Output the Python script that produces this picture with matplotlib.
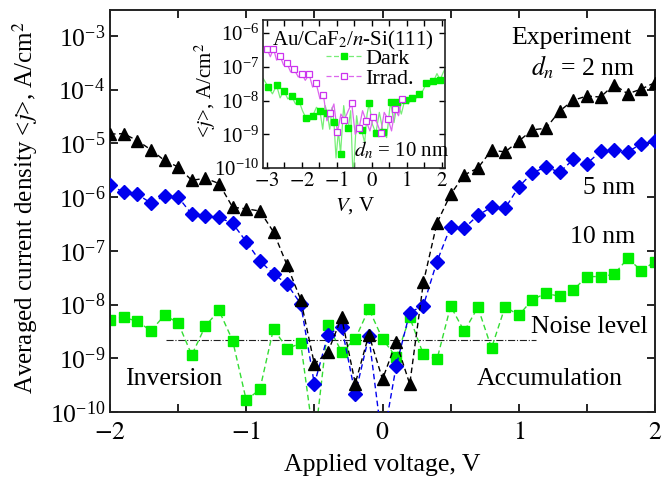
import numpy as np
import matplotlib
matplotlib.use("Agg")
import matplotlib.pyplot as plt
from matplotlib.lines import Line2D
from matplotlib.ticker import MultipleLocator, LogLocator, NullLocator

plt.rcParams['font.family'] = ['Liberation Serif', 'DejaVu Serif']
plt.rcParams['mathtext.fontset'] = 'stix'

# ---------------- main data (log10 of averaged current density, A/cm^2) ----------------
voltage = np.round(np.arange(-2.0, 2.0001, 0.1), 2)
log_j_2nm = [-4.83, -4.82, -4.95, -5.12, -5.32, -5.44, -5.69, -5.65, -5.75, -6.19,
             -6.22, -6.26, -6.65, -7.27, -7.91, -9.11, -8.88, -8.24, -9.47, -8.56,
             -9.39, -8.70, -9.48, -7.59, -6.48, -5.95, -5.59, -5.46, -5.13, -5.16,
             -4.96, -4.75, -4.72, -4.40, -4.20, -4.12, -4.14, -3.91, -4.08, -3.99, -3.87]
log_j_5nm = [-5.78, -5.91, -5.95, -6.11, -5.98, -6.00, -6.32, -6.36, -6.38, -6.49,
             -6.83, -7.19, -7.43, -7.62, -7.99, -9.48, -8.56, -8.41, -9.67, -8.59,
             -10.6, -9.15, -8.15, -8.02, -7.20, -6.55, -6.58, -6.34, -6.19, -6.21,
             -5.81, -5.55, -5.44, -5.54, -5.30, -5.38, -5.15, -5.13, -5.16, -5.01, -4.95]
log_j_10nm = [-8.28, -8.24, -8.31, -8.49, -8.20, -8.34, -8.94, -8.40, -8.11, -8.67,
              -9.78, -9.58, -8.45, -8.82, -8.72, -10.6, -8.39, -8.88, -8.64, -8.08,
              -8.64, -8.98, -8.24, -8.93, -9.02, -8.03, -8.50, -8.05, -8.81, -8.04,
              -8.20, -7.91, -7.79, -7.85, -7.73, -7.48, -7.48, -7.44, -7.14, -7.37, -7.20]
noise_level = 2.2e-9
noise_v_range = [-1.59, 1.13]

# ---------------- inset data ----------------
dark_marker_v = [-2.96, -2.72, -2.51, -2.29, -2.08, -1.88, -1.69, -1.48, -1.27, -1.08,
                 -0.89, -0.67, -0.48, -0.29, -0.07, 0.12, 0.33, 0.54, 0.74, 0.95,
                 1.16, 1.36, 1.57, 1.77, 1.96]
dark_marker_logj = [-7.60, -7.55, -7.71, -7.87, -8.01, -8.52, -8.46, -8.31, -8.38, -8.63,
                    -9.57, -8.81, -10.4, -8.86, -8.08, -8.97, -8.94, -8.03, -8.03, -7.98,
                    -7.93, -7.80, -7.48, -7.43, -7.38]
dark_line_v = [-3.1, -2.96, -2.84, -2.72, -2.62, -2.51, -2.40, -2.29, -2.18, -2.08,
               -1.98, -1.88, -1.78, -1.69, -1.58, -1.48, -1.40, -1.33, -1.27, -1.20,
               -1.13, -1.08, -1.02, -0.95, -0.89, -0.80, -0.73, -0.67, -0.60, -0.53,
               -0.43, -0.36, -0.29, -0.20, -0.13, -0.07, 0.02, 0.12, 0.22, 0.33,
               0.43, 0.54, 0.64, 0.74, 0.85, 0.95, 1.05, 1.16, 1.26, 1.36,
               1.47, 1.57, 1.67, 1.77, 1.87, 1.96, 2.1]
dark_line_logj = [-7.35, -7.60, -7.80, -7.55, -7.92, -7.71, -7.95, -7.87, -8.10, -8.01,
                  -8.30, -8.52, -8.60, -8.46, -8.20, -8.31, -8.85, -8.15, -8.38, -8.85,
                  -8.20, -8.63, -9.70, -8.90, -9.57, -8.15, -8.70, -8.81, -8.30, -10.4,
                  -8.45, -8.95, -8.86, -9.25, -8.40, -8.08, -8.70, -8.97, -8.35, -8.94,
                  -9.10, -8.03, -8.65, -8.03, -8.40, -7.98, -8.10, -7.93, -7.95, -7.80,
                  -7.70, -7.48, -7.55, -7.43, -7.20, -7.38, -7.05]
irr_marker_v = [-3.0, -2.81, -2.62, -2.43, -2.22, -2.0, -1.79, -1.59, -1.38, -1.18,
                -0.98, -0.78, -0.57, -0.36, -0.16, 0.05, 0.26, 0.47, 0.67, 0.87]
irr_marker_logj = [-6.46, -6.46, -6.68, -6.88, -7.07, -7.20, -7.22, -7.48, -7.83, -8.37,
                   -8.94, -8.57, -8.08, -8.82, -8.60, -8.50, -8.97, -8.55, -8.25, -7.95]
irr_line_v = [-3.1, -3.0, -2.9, -2.81, -2.72, -2.62, -2.52, -2.43, -2.32, -2.22,
              -2.1, -2.0, -1.9, -1.79, -1.69, -1.59, -1.48, -1.38, -1.28, -1.18,
              -1.08, -0.98, -0.88, -0.78, -0.67, -0.57, -0.47, -0.36, -0.26, -0.16,
              -0.05, 0.05, 0.15, 0.26, 0.36, 0.47, 0.57, 0.67, 0.77, 0.87]
irr_line_logj = [-6.40, -6.46, -6.70, -6.46, -6.80, -6.68, -6.95, -6.88, -7.15, -7.07,
                 -7.30, -7.20, -7.40, -7.22, -7.60, -7.48, -7.95, -7.83, -8.60, -8.37,
                 -8.10, -8.94, -8.40, -8.57, -8.30, -8.08, -9.00, -8.82, -8.30, -8.60,
                 -8.90, -8.50, -8.65, -8.97, -8.35, -8.55, -8.90, -8.25, -8.45, -7.95]

W, H = 667, 479
fig = plt.figure(figsize=(W / 100, H / 100), dpi=100)

def fx(px):
    return px / W

def fy(py):
    return 1 - py / H

ax = fig.add_axes([fx(110), fy(412), fx(655) - fx(110), fy(10) - fy(412)])

FS = 18.5
black = '#000000'
blue = '#0000ee'
green = '#00ee00'
green_line = '#33dd33'

ax.plot(voltage, 10 ** np.array(log_j_2nm), color=black, lw=1.0, dashes=(4, 2.5),
        marker='^', ms=8, mfc=black, mec=black, zorder=4)
ax.plot(voltage, 10 ** np.array(log_j_5nm), color=blue, lw=1.0, dashes=(4, 2.5),
        marker='D', ms=7, mfc=blue, mec=blue, zorder=3)
ax.plot(voltage, 10 ** np.array(log_j_10nm), color=green_line, lw=1.0, dashes=(4, 2.5),
        marker='s', ms=6.5, mfc=green, mec=green, zorder=2)
ax.plot(noise_v_range, [noise_level, noise_level], color='#222222', lw=0.8, ls='-.', zorder=1)

ax.set_yscale('log')
ax.set_xlim(-2, 2)
ax.set_ylim(1e-10, 10 ** -2.52)
ax.xaxis.set_minor_locator(MultipleLocator(0.5))
ax.yaxis.set_major_locator(LogLocator(base=10, numticks=20))
ax.yaxis.set_minor_locator(NullLocator())
ax.set_xticks([-2, -1, 0, 1, 2])
ax.set_xticklabels(['$-2$', '$-1$', '$0$', '$1$', '$2$'])
ax.tick_params(which='both', direction='in', top=True, right=True, labelsize=FS,
               length=6, width=1.2)
ax.tick_params(axis='x', pad=7)
for s in ax.spines.values():
    s.set_linewidth(1.4)
    s.set_color('#222222')

fig.text(fx(382), fy(465), 'Applied voltage, V', fontsize=FS, ha='center', va='center')
fig.text(fx(25), fy(208), 'Averaged current density <$j$>, A/cm$^2$', fontsize=18,
         ha='center', va='center', rotation=90)

fig.text(fx(632), fy(38), 'Experiment', fontsize=FS, ha='right', va='center')
fig.text(fx(635), fy(67), '$d_n$ = 2 nm', fontsize=FS, ha='right', va='center')
fig.text(fx(635), fy(188), '5 nm', fontsize=FS, ha='right', va='center')
fig.text(fx(635), fy(237), '10 nm', fontsize=FS, ha='right', va='center')
fig.text(fx(648), fy(327), 'Noise level', fontsize=FS, ha='right', va='center')
fig.text(fx(623), fy(379), 'Accumulation', fontsize=FS, ha='right', va='center')
fig.text(fx(125), fy(379), 'Inversion', fontsize=FS, ha='left', va='center')

# ---------------- inset ----------------
FSI = 15
axi = fig.add_axes([fx(263), fy(168), fx(445) - fx(263), fy(20) - fy(168)])
axi.set_facecolor('white')
magenta = '#cc33ee'
axi.plot(dark_line_v, 10 ** np.array(dark_line_logj), color='#77ee77', lw=0.9, zorder=2)
axi.plot(dark_marker_v, 10 ** np.array(dark_marker_logj), ls='none', marker='s', ms=5,
         mfc='#00ee00', mec='#00ee00', zorder=3)
axi.plot(irr_line_v, 10 ** np.array(irr_line_logj), color='#dd66ee', lw=0.9, zorder=2)
axi.plot(irr_marker_v, 10 ** np.array(irr_marker_logj), ls='none', marker='s', ms=5,
         mfc='white', mec=magenta, mew=0.9, zorder=4)
axi.set_yscale('log')
axi.set_xlim(-3.11, 2.1)
axi.set_ylim(1e-10, 10 ** -5.61)
axi.xaxis.set_minor_locator(MultipleLocator(0.5))
axi.yaxis.set_major_locator(LogLocator(base=10, numticks=20))
axi.yaxis.set_minor_locator(NullLocator())
axi.set_xticks([-3, -2, -1, 0, 1, 2])
axi.set_xticklabels(['$-3$', '$-2$', '$-1$', '$0$', '$1$', '$2$'])
axi.tick_params(which='both', direction='in', top=True, right=True, labelsize=FSI,
                length=4, width=1.0, pad=3)
for s in axi.spines.values():
    s.set_linewidth(1.2)
    s.set_color('#222222')

fig.text(fx(355), fy(206), '$V$, V', fontsize=FSI, ha='center', va='center')
fig.text(fx(205), fy(90), '<$j$>, A/cm$^2$', fontsize=FSI, ha='center', va='center',
         rotation=90)
fig.text(fx(272), fy(40), 'Au/CaF$_2$/$n$-Si(111)', fontsize=FSI, ha='left', va='center')
fig.text(fx(449), fy(150), '$d_n$ = 10 nm', fontsize=FSI, ha='right', va='center')

handles = [
    Line2D([], [], color='#77ee77', lw=0.9, dashes=(4, 2), marker='s', ms=5,
           mfc='#00ee00', mec='#00ee00'),
    Line2D([], [], color='#dd66ee', lw=0.9, dashes=(4, 2), marker='s', ms=5,
           mfc='white', mec=magenta, mew=0.9),
]
fig.legend(handles, ['Dark', 'Irrad.'], loc='upper left',
           bbox_to_anchor=(fx(326), fy(48)), bbox_transform=fig.transFigure,
           frameon=False, fontsize=16, handlelength=1.6, handletextpad=0.15,
           labelspacing=0.0, borderpad=0, borderaxespad=0)

fig.savefig('out.png', dpi=100)
